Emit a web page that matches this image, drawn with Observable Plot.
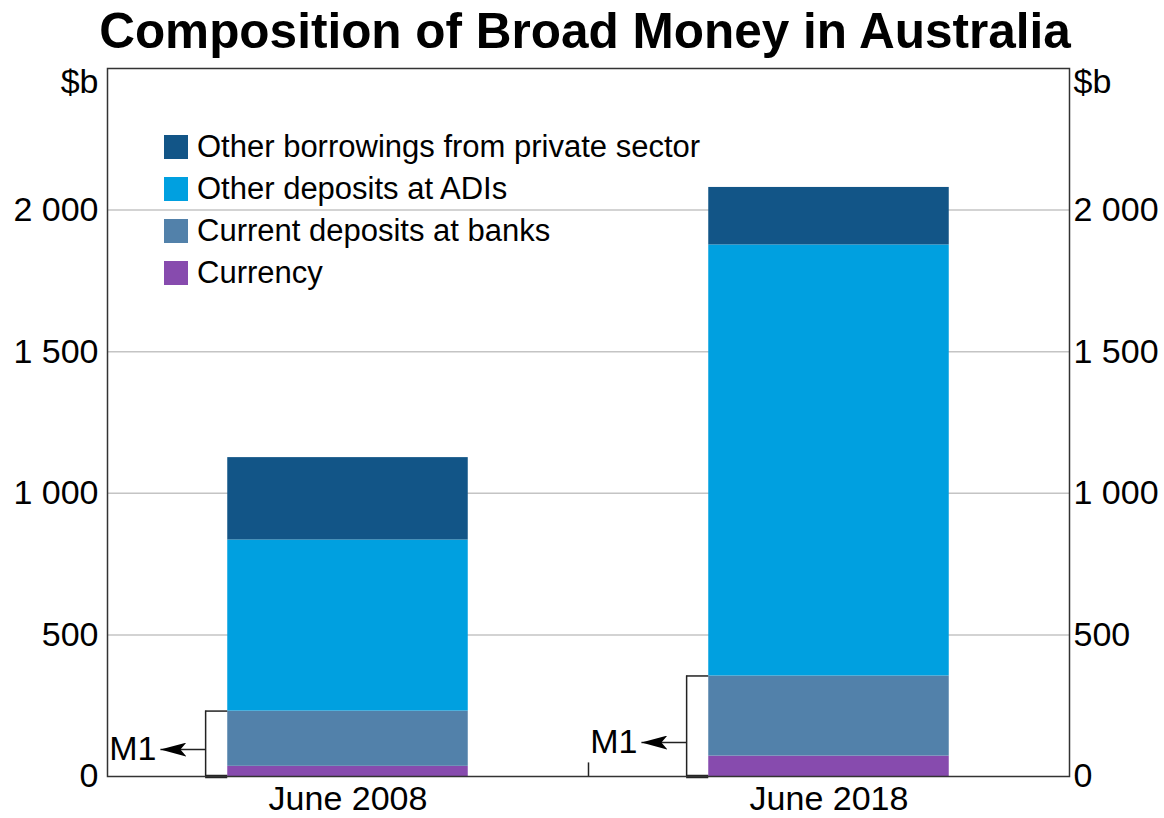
<!DOCTYPE html>
<html>
<head>
<meta charset="utf-8">
<script src="https://cdn.jsdelivr.net/npm/d3@7"></script>
<script src="https://cdn.jsdelivr.net/npm/@observablehq/plot@0.6"></script>
<style>
  html, body { margin: 0; padding: 0; background: #fff; }
  body { width: 1164px; height: 818px; position: relative; overflow: hidden;
         font-family: "Liberation Sans", Arial, sans-serif; color: #000; }
  #title { height: 62px; line-height: 62px; font-size: 49.5px; font-weight: bold;
           text-align: center; padding-left: 6px; white-space: nowrap; }
  #legend { position: absolute; left: 164px; top: 126px; font-size: 31px; }
  .row { display: flex; align-items: center; height: 42px; white-space: nowrap; }
  .sw { width: 24px; height: 24px; margin-right: 9px; flex: none; }
</style>
</head>
<body>
<div id="title">Composition of Broad Money in Australia</div>
<div id="chart"></div>
<div id="legend"></div>
<script>
// ---- Data ----
const categories = ["June 2008", "June 2018"];
const series = ["Currency", "Current deposits at banks", "Other deposits at ADIs", "Other borrowings from private sector"];
const currency = [36, 72];
const currentDeposits = [195, 283];
const otherDeposits = [604, 1522];
const otherBorrowings = [291, 203];
const colors = ["#874bae", "#5281aa", "#00a0e0", "#125587"];
const yTicks = [0, 500, 1000, 1500, 2000];
const m1ArrowAt = [95, 120];
const legendOrder = ["Other borrowings from private sector", "Other deposits at ADIs", "Current deposits at banks", "Currency"];

// ---- Build tables ----
const valuesBySeries = [currency, currentDeposits, otherDeposits, otherBorrowings];
const table = [];
categories.forEach((c, i) => {
  let base = 0;
  series.forEach((s, j) => {
    const v = valuesBySeries[j][i];
    table.push({pos: i, category: c, series: s, y1: base, y2: base + v});
    base += v;
  });
});
const m1 = categories.map((c, i) => ({pos: i, m1: currency[i] + currentDeposits[i], arrowY: m1ArrowAt[i]}));

const half = 0.25, bracketGap = 0.296, arrowTip = 0.39;
const fmt = d => d3.format(",")(d).replace(/,/g, " ");
const ink = "#222";
const fs = 34;

const chart = Plot.plot({
  width: 1164, height: 756,
  marginTop: 6, marginBottom: 42, marginLeft: 107, marginRight: 95,
  style: {fontFamily: "'Liberation Sans', Arial, sans-serif", color: "#000", background: "#fff"},
  x: {type: "linear", domain: [-0.5, 1.5], axis: null},
  y: {domain: [0, 2500], axis: null},
  color: {domain: series, range: colors},
  marks: [
    Plot.ruleY(yTicks.filter(d => d > 0), {stroke: "#c4c4c4", strokeWidth: 1.5}),
    Plot.rectY(table, {x1: d => d.pos - half, x2: d => d.pos + half, y1: "y1", y2: "y2", fill: "series"}),
    Plot.ruleX(m1, {x: d => d.pos - bracketGap, y1: 0, y2: "m1", stroke: ink, strokeWidth: 1.5}),
    Plot.ruleY(m1, {y: "m1", x1: d => d.pos - bracketGap, x2: d => d.pos - half, stroke: ink, strokeWidth: 1.5}),
    Plot.ruleY(m1, {y: 0, x1: d => d.pos - bracketGap, x2: d => d.pos - half, stroke: ink, strokeWidth: 3.5}),
    Plot.link(m1, {x1: d => d.pos - bracketGap, x2: d => d.pos - arrowTip, y1: "arrowY", y2: "arrowY", stroke: ink, strokeWidth: 1.5}),
    Plot.text(m1, {x: d => d.pos - arrowTip, y: "arrowY", text: () => "M1", textAnchor: "end", dx: -4, fontSize: fs, fill: "#000"}),
    Plot.ruleX([0.5], {y1: 0, y2: 48, stroke: ink, strokeWidth: 1.5}),
    Plot.frame({stroke: "#333", strokeWidth: 1.5}),
    Plot.axisY({anchor: "left", ticks: yTicks, tickSize: 0, tickPadding: 9, tickFormat: fmt, fontSize: fs, label: null}),
    Plot.axisY({anchor: "right", ticks: yTicks, tickSize: 0, tickPadding: 4, tickFormat: fmt, fontSize: fs, label: null}),
    Plot.axisX({ticks: [0, 1], tickFormat: i => categories[i], tickSize: 0, tickPadding: 9, fontSize: fs, label: null}),
    Plot.text(["$b"], {frameAnchor: "top-left", dx: -9, dy: 14, textAnchor: "end", lineAnchor: "middle", fontSize: fs}),
    Plot.text(["$b"], {frameAnchor: "top-right", dx: 4, dy: 14, textAnchor: "start", lineAnchor: "middle", fontSize: fs})
  ]
});
document.getElementById("chart").appendChild(chart);

// Filled arrowheads for the M1 pointers
const svg = d3.select(chart);
svg.append("defs").append("marker")
  .attr("id", "m1head")
  .attr("markerUnits", "userSpaceOnUse")
  .attr("viewBox", "0 0 26 14")
  .attr("markerWidth", 26).attr("markerHeight", 14)
  .attr("refX", 26).attr("refY", 7)
  .attr("orient", "auto")
  .append("path").attr("d", "M0,0 L26,7 L0,14 L6,7 Z").attr("fill", "#000");
svg.selectAll('g[aria-label="link"] path').attr("marker-end", "url(#m1head)");

// Legend
const lg = document.getElementById("legend");
legendOrder.forEach(name => {
  const row = document.createElement("div");
  row.className = "row";
  const sw = document.createElement("div");
  sw.className = "sw";
  sw.style.background = colors[series.indexOf(name)];
  const t = document.createElement("span");
  t.textContent = name;
  row.appendChild(sw); row.appendChild(t);
  lg.appendChild(row);
});
</script>
</body>
</html>
